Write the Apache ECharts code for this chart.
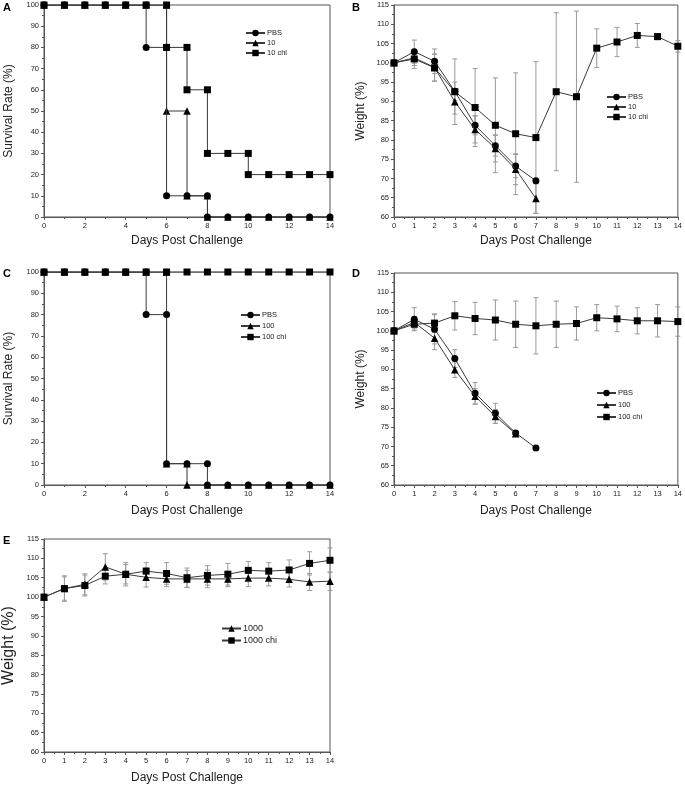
<!DOCTYPE html>
<html><head><meta charset="utf-8">
<script src="https://cdn.jsdelivr.net/npm/echarts@6/dist/echarts.min.js"></script>
<style>html,body{margin:0;padding:0;background:#fff}#c{width:685px;height:785px}</style>
</head><body><div id="c"></div><script>
// ---------- data ----------
const days = [0,1,2,3,4,5,6,7,8,9,10,11,12,13,14];

// Panel A survival (%)
const survA_PBS   = [100,100,100,100,100,80,10,10,0,0,0,0,0,0,0];
const survA_10    = [100,100,100,100,100,100,50,10,0,0,0,0,0,0,0];
const survA_10chi = [100,100,100,100,100,100,80,60,30,30,20,20,20,20,20];

// Panel C survival (%)
const survC_PBS    = [100,100,100,100,100,80,10,10,0,0,0,0,0,0,0];
const survC_100    = [100,100,100,100,100,100,10,0,0,0,0,0,0,0,0];
const survC_100chi = [100,100,100,100,100,100,100,100,100,100,100,100,100,100,100];

// Panel B weight (%) and error
const wB_PBS    = [100,102.9,100.4,92.6,83.8,78.5,73.2,69.4];
const eB_PBS    = [0,3,3.2,2.4,2.5,2.7,3,0.5];
const wB_10     = [100,101.3,98.8,89.9,82.7,77.8,72.4,64.8];
const eB_10     = [0,2,3.5,3.2,3.5,3.5,4,3.8];
const wB_10chi  = [100,101.0,98.7,92.5,88.4,83.8,81.6,80.6,92.5,91.2,103.8,105.4,107.1,106.8,104.3];
const eB_10chi  = [0,2.5,3.5,8.5,10.1,12.3,15.8,19.7,20.5,22.2,5,3.8,3.1,0.8,1.5];

// Panel D weight (%) and error
const wD_PBS    = [100,103.0,100.4,92.8,83.8,78.6,73.5,69.6];
const eD_PBS    = [0,3,3.8,2.3,2.8,2.6,0.5,0.5];
const wD_100    = [100,102.2,98.1,89.9,83.0,77.8,73.3];
const eD_100    = [0,1.5,3,2,2,1.8,0.5];
const wD_100chi = [100,101.7,102.0,103.9,103.2,102.8,101.7,101.3,101.7,101.9,103.4,103.1,102.6,102.6,102.4];
const eD_100chi = [0,1.5,2.4,3.7,4.2,5.2,6,7.3,6,4.3,3.4,3.3,3.4,4.2,3.8];

// Panel E weight (%) and error
const wE_1000    = [100,102.2,103.3,107.8,105.9,105.1,104.7,104.7,104.7,104.7,104.9,104.9,104.6,103.9,104.1];
const eE_1000    = [0,3.3,2.7,3.4,2.5,2.5,2,2.2,2.3,2,2.2,2,2,2.2,2.4];
const wE_1000chi = [100,102.2,103.0,105.4,105.9,106.7,106.1,105.0,105.6,105.9,106.9,106.7,107.0,108.7,109.5];
const eE_1000chi = [0,3,2.7,2,3,2.2,2.8,2.5,2.5,2.8,2.3,2.2,2.6,3,3.2];

// ---------- helpers ----------
const FONT = 'Liberation Sans, Arial, sans-serif';
const LINE = '#3a3a3a', MARK = '#000', ERR = '#9a9a9a';

function stepPoints(vals){
  const pts = [];
  vals.forEach((v,i)=>{
    if(i>0 && vals[i-1]!==v) pts.push([days[i], vals[i-1]]);
    pts.push([days[i], v]);
  });
  return pts;
}
function pts(vals){ return vals.map((v,i)=>[days[i], v]); }
function errs(vals, e){
  const out=[]; vals.forEach((v,i)=>{ if(e[i]>0) out.push([days[i], v-e[i], v+e[i]]); }); return out;
}
function lineSeries(name, data, symbol, idx, z){
  return {type:'line', name, data, xAxisIndex:idx, yAxisIndex:idx, symbol,
    symbolSize: symbol==='triangle'?7.5:7, showSymbol:true, animation:false, z:z||3,
    lineStyle:{color:LINE, width:1}, itemStyle:{color:MARK, borderWidth:0}, emphasis:{disabled:true}};
}
function errSeries(data, idx){
  return {type:'custom', xAxisIndex:idx, yAxisIndex:idx, data, z:1, animation:false, silent:true,
    encode:{x:0, y:[1,2]},
    renderItem(params, api){
      const x=api.value(0), lo=api.value(1), hi=api.value(2);
      const a=api.coord([x,hi]), b=api.coord([x,lo]); const w=2.5;
      const st={stroke:ERR, lineWidth:1};
      return {type:'group', children:[
        {type:'line', shape:{x1:a[0],y1:a[1],x2:b[0],y2:b[1]}, style:st},
        {type:'line', shape:{x1:a[0]-w,y1:a[1],x2:a[0]+w,y2:a[1]}, style:st},
        {type:'line', shape:{x1:b[0]-w,y1:b[1],x2:b[0]+w,y2:b[1]}, style:st}
      ]};
    }};
}
const axisCommon = {
  axisLine:{show:true, lineStyle:{color:'#555', width:1}},
  axisTick:{show:true, inside:false, length:3, lineStyle:{color:'#555'}},
  minorTick:{show:true, splitNumber:2, length:2, lineStyle:{color:'#555'}},
  splitLine:{show:false}, minorSplitLine:{show:false},
  axisLabel:{fontSize:7.5, color:'#222', fontFamily:FONT, margin:5},
  nameTextStyle:{fontSize:12, color:'#222', fontFamily:FONT}
};
function xAx(idx, interval, gap){
  return Object.assign({}, axisCommon, {type:'value', gridIndex:idx, min:0, max:14, interval,
    name:'Days Post Challenge', nameLocation:'middle', nameGap:gap});
}
function yAx(idx, min, max, interval, name, gap, fs){
  return Object.assign({}, axisCommon, {type:'value', gridIndex:idx, min, max, interval,
    name, nameLocation:'middle', nameGap:gap,
    nameTextStyle:{fontSize:fs||12, color:'#222', fontFamily:FONT}});
}
function legend(names, left, top, gap, fs){
  return {orient:'vertical', left, top, data:names, itemWidth:19, itemHeight:8, itemGap:gap,
    padding:0, selectedMode:false, textStyle:{fontSize:fs||7.5, color:'#222', fontFamily:FONT, padding:[0,0,0,-3]},
    formatter: n => n.split('#')[0]};
}

const gridBox = {show:true, borderColor:'#555', borderWidth:1, backgroundColor:'transparent'};
const option = {
  backgroundColor:'#fff',
  animation:false,
  grid:[
    Object.assign({left:44, top:5, width:286, height:212}, gridBox),
    Object.assign({left:394, top:5, width:288, height:212}, gridBox),
    Object.assign({left:44, top:272, width:286, height:213}, gridBox),
    Object.assign({left:394, top:273, width:288, height:212}, gridBox),
    Object.assign({left:44, top:539, width:286, height:213}, gridBox)
  ],
  xAxis:[ xAx(0,2,18), xAx(1,1,18), xAx(2,2,20), xAx(3,1,20), xAx(4,1,20) ],
  yAxis:[
    yAx(0,0,100,10,'Survival Rate (%)',29),
    yAx(1,60,115,5,'Weight (%)',27),
    yAx(2,0,100,10,'Survival Rate (%)',29),
    yAx(3,60,115,5,'Weight (%)',27),
    yAx(4,60,115,5,'Weight (%)',27,16)
  ],
  legend:[
    legend(['PBS#A','10#A','10 chi#A'], 245, 29, 2),
    legend(['PBS#B','10#B','10 chi#B'], 606, 93, 2),
    legend(['PBS#C','100#C','100 chi#C'], 240, 311, 3),
    legend(['PBS#D','100#D','100 chi#D'], 596, 389, 4),
    legend(['1000#E','1000 chi#E'], 221, 624, 3, 9)
  ],
  graphic:[
    {type:'text', left:3, top:2, style:{text:'A', font:'bold 11px '+FONT, fill:'#000'}},
    {type:'text', left:352, top:2, style:{text:'B', font:'bold 11px '+FONT, fill:'#000'}},
    {type:'text', left:3, top:268, style:{text:'C', font:'bold 11px '+FONT, fill:'#000'}},
    {type:'text', left:352, top:268, style:{text:'D', font:'bold 11px '+FONT, fill:'#000'}},
    {type:'text', left:3, top:535, style:{text:'E', font:'bold 11px '+FONT, fill:'#000'}}
  ],
  series:[
    // A
    lineSeries('10 chi#A', stepPoints(survA_10chi), 'rect', 0, 3),
    lineSeries('10#A', stepPoints(survA_10), 'triangle', 0, 4),
    lineSeries('PBS#A', stepPoints(survA_PBS), 'circle', 0, 5),
    // B
    errSeries(errs(wB_10chi,eB_10chi),1), errSeries(errs(wB_PBS,eB_PBS),1), errSeries(errs(wB_10,eB_10),1),
    lineSeries('PBS#B', pts(wB_PBS), 'circle', 1, 3),
    lineSeries('10#B', pts(wB_10), 'triangle', 1, 4),
    lineSeries('10 chi#B', pts(wB_10chi), 'rect', 1, 5),
    // C
    lineSeries('100#C', stepPoints(survC_100), 'triangle', 2, 3),
    lineSeries('100 chi#C', stepPoints(survC_100chi), 'rect', 2, 4),
    lineSeries('PBS#C', stepPoints(survC_PBS), 'circle', 2, 5),
    // D
    errSeries(errs(wD_100chi,eD_100chi),3), errSeries(errs(wD_PBS,eD_PBS),3), errSeries(errs(wD_100,eD_100),3),
    lineSeries('PBS#D', pts(wD_PBS), 'circle', 3, 3),
    lineSeries('100#D', pts(wD_100), 'triangle', 3, 4),
    lineSeries('100 chi#D', pts(wD_100chi), 'rect', 3, 5),
    // E
    errSeries(errs(wE_1000chi,eE_1000chi),4), errSeries(errs(wE_1000,eE_1000),4),
    lineSeries('1000#E', pts(wE_1000), 'triangle', 4, 3),
    lineSeries('1000 chi#E', pts(wE_1000chi), 'rect', 4, 4)
  ]
};
const chart = echarts.init(document.getElementById('c'), null, {renderer:'canvas'});
chart.setOption(option);
</script></body></html>
